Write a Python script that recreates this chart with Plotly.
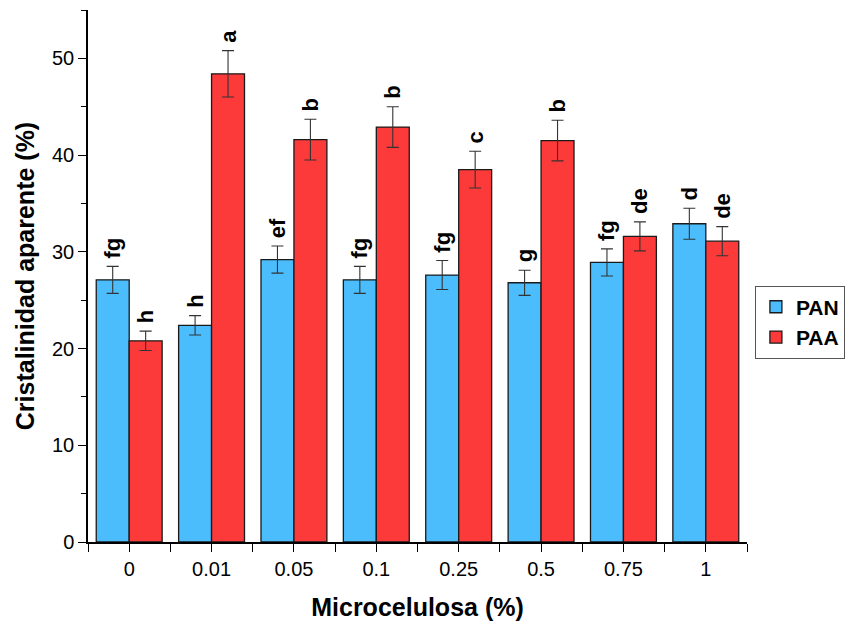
import plotly.graph_objects as go

categories = ["0", "0.01", "0.05", "0.1", "0.25", "0.5", "0.75", "1"]
pan_values = [27.1, 22.4, 29.2, 27.1, 27.6, 26.8, 28.9, 32.9]
pan_errors = [1.4, 1.0, 1.4, 1.4, 1.5, 1.3, 1.4, 1.6]
paa_values = [20.8, 48.4, 41.6, 42.9, 38.5, 41.5, 31.6, 31.1]
paa_errors = [1.0, 2.4, 2.1, 2.1, 1.9, 2.1, 1.5, 1.5]
pan_letters = ["fg", "h", "ef", "fg", "fg", "g", "fg", "d"]
paa_letters = ["h", "a", "b", "b", "c", "b", "de", "de"]

blue = "#4BBCFC"
red = "#FC3A3A"
font_family = "Liberation Sans, Arial, sans-serif"
label_gap = 0.5  # space between error-bar cap and letter, in axis units
xpos = list(range(len(categories)))

fig = go.Figure()
fig.add_trace(go.Bar(
    x=xpos, y=pan_values, name="PAN",
    marker=dict(color=blue, line=dict(color="#1a1a1a", width=1.3)),
    error_y=dict(type="data", array=pan_errors, color="#333333", thickness=1.1, width=6),
))
fig.add_trace(go.Bar(
    x=xpos, y=paa_values, name="PAA",
    marker=dict(color=red, line=dict(color="#1a1a1a", width=1.3)),
    error_y=dict(type="data", array=paa_errors, color="#333333", thickness=1.1, width=6),
))

# significance letters: transparent zero-height bars sitting on top of each error bar
for off, vals, errs, lets in ((-0.4, pan_values, pan_errors, pan_letters),
                              (0.0, paa_values, paa_errors, paa_letters)):
    fig.add_trace(go.Bar(
        x=xpos, y=[0.001] * len(xpos),
        base=[v + e + label_gap for v, e in zip(vals, errs)],
        offset=off, width=0.4, showlegend=False, hoverinfo="skip",
        marker=dict(color="rgba(0,0,0,0)", line=dict(width=0)),
        text=lets, textposition="outside", textangle=-90, constraintext="none",
        cliponaxis=False,
        outsidetextfont=dict(family=font_family, size=22, color="black", weight="bold"),
    ))

fig.update_layout(
    width=858, height=615,
    margin=dict(l=80, r=119, t=2, b=81, autoexpand=False),
    plot_bgcolor="white", paper_bgcolor="white",
    barmode="group", bargap=0.2, bargroupgap=0,
    font=dict(family=font_family, color="black"),
    showlegend=True,
    legend=dict(
        x=1.012, y=0.482, xanchor="left", yanchor="top",
        bordercolor="#555555", borderwidth=1,
        font=dict(family=font_family, size=21, color="black", weight="bold"),
        tracegroupgap=0,
    ),
    xaxis=dict(
        range=[-0.5, 7.5], tickmode="array", tickvals=xpos, ticktext=categories,
        showline=True, linecolor="black", linewidth=1.5, mirror=False,
        ticks="outside", ticklen=8, tickwidth=1.3, tickcolor="black",
        minor=dict(tickmode="linear", tick0=0.5, dtick=1, ticks="outside",
                   ticklen=8, tickwidth=1.3, tickcolor="black"),
        showgrid=False, zeroline=False, automargin=False,
        tickfont=dict(family=font_family, size=20, color="black"),
        title=dict(text="Microcelulosa (%)",
                   font=dict(family=font_family, size=25, color="black", weight="bold"),
                   standoff=20),
    ),
    yaxis=dict(
        range=[0, 55], tickmode="linear", tick0=0, dtick=10,
        showline=True, linecolor="black", linewidth=1.5,
        ticks="outside", ticklen=8, tickwidth=1.3, tickcolor="black",
        minor=dict(tickmode="linear", tick0=5, dtick=10, ticks="outside",
                   ticklen=5, tickwidth=1.3, tickcolor="black"),
        showgrid=False, zeroline=False, automargin=False,
        tickfont=dict(family=font_family, size=20, color="black"),
        title=dict(text="Cristalinidad aparente (%)",
                   font=dict(family=font_family, size=25, color="black", weight="bold"),
                   standoff=10),
    ),
)

fig.write_html("out.html")
